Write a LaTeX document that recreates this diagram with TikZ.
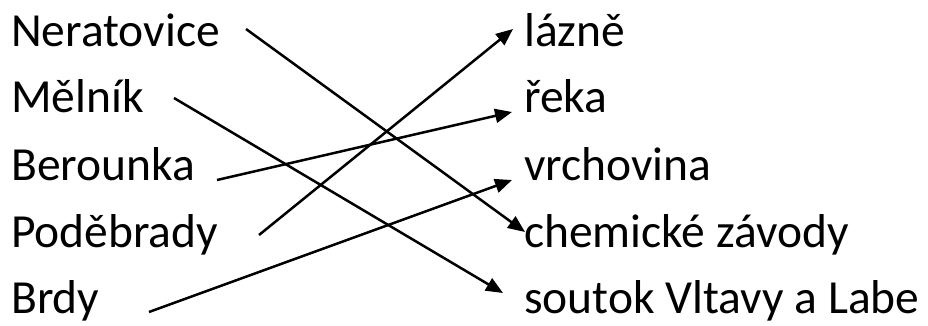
\documentclass[tikz,border=0pt]{standalone}
\usepackage{fontspec}
\setmainfont{Carlito}
\usetikzlibrary{arrows.meta}
\begin{document}
\begin{tikzpicture}[x=1pt,y=-1pt,
  lbl/.style={anchor=base west,inner sep=0pt,font=\fontsize{47.5}{50}\selectfont},
  conn/.style={line width=2.5pt,-{Triangle[length=17pt,width=14pt]}}]
\useasboundingbox (0,0) rectangle (928,325);
\node[lbl] (ner) at (11,46) {Neratovice};
\node[lbl] (mel) at (11,112) {Mělník};
\node[lbl] (ber) at (11,180) {Berounka};
\node[lbl] (pod) at (11,247) {Poděbrady};
\node[lbl] (brd) at (11,313) {Brdy};
\node[lbl] (laz) at (524,46) {lázně};
\node[lbl] (rek) at (524,112) {řeka};
\node[lbl] (vrc) at (524,180) {vrchovina};
\node[lbl] (che) at (524,247) {chemické závody};
\node[lbl] (sou) at (524,313) {soutok Vltavy a Labe};
\coordinate (nerS) at (246,29);
\coordinate (melS) at (174,98);
\coordinate (berS) at (217,180);
\coordinate (podS) at (259,235);
\coordinate (brdS) at (149,312);
\coordinate (lazE) at (513,29);
\coordinate (rekE) at (512,112);
\coordinate (vrcE) at (512,180);
\coordinate (cheE) at (525,232);
\coordinate (souE) at (503,293);
\draw[conn] (nerS) -- (cheE);
\draw[conn] (melS) -- (souE);
\draw[conn] (berS) -- (rekE);
\draw[conn] (podS) -- (lazE);
\draw[conn] (brdS) -- (vrcE);
\end{tikzpicture}
\end{document}
